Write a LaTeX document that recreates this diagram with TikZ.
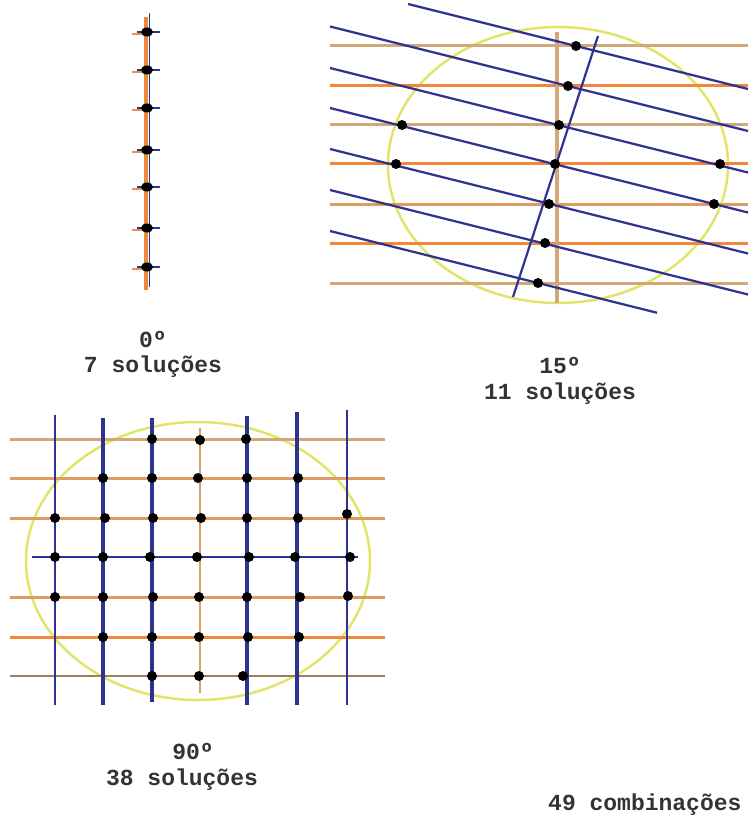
\documentclass[tikz,border=0pt]{standalone}
\usepackage{fontspec}
\setmonofont{Liberation Mono}
\definecolor{tanc}{HTML}{D2A878}
\definecolor{orc}{HTML}{F0873A}
\definecolor{bluec}{HTML}{2E3290}
\definecolor{yelc}{HTML}{E2E46A}
\begin{document}
\begin{tikzpicture}[x=1pt,y=-1pt,
  tanline/.style={draw=tanc,line width=3pt},
  orline/.style={draw=orc,line width=3pt},
  blueline/.style={draw=bluec,line width=2.2pt},
  thickblue/.style={draw=bluec,line width=3.4pt},
  circ/.style={draw=yelc,line width=2.5pt},
  dot/.style={fill=black},
  lbl/.style={font=\fontsize{23}{26}\selectfont\ttfamily\bfseries,text=black!80,inner sep=0pt}
]
\useasboundingbox (0,0) rectangle (748,821);

% ---------- 0 degrees ----------
\draw[orline,line width=3.5pt] (146,17) -- (146,290);
\draw[bluec,line width=1.8pt] (149.5,13) -- (149.5,287);
\foreach \yy in {32,70,108,150,187,228,267}{
  \draw[orc!70!tanc,line width=1.8pt] (132,\yy+2) -- (142,\yy+2);
  \draw[bluec,line width=2pt] (137,\yy) -- (160,\yy);
  \fill[dot] (147,\yy) ellipse [x radius=6pt, y radius=4.5pt];
}

% ---------- 15 degrees ----------
\draw[circ] (558,165) ellipse [x radius=170pt, y radius=138pt];
\draw[tanline] (330,46) -- (748,46);
\draw[orline] (330,86) -- (748,86);
\draw[tanline] (330,125) -- (748,125);
\draw[orline] (330,164) -- (748,164);
\draw[tanline,draw=tanc!60!orc] (330,204) -- (748,204);
\draw[orline] (330,243) -- (748,243);
\draw[tanline] (330,283) -- (748,283);
\draw[tanline,line width=3.5pt] (557,32) -- (557,303);
\draw[blueline] (408,4) -- (748,89);
\foreach \o in {26.5,68,108,149,190}{
  \draw[blueline] (330,\o) -- (748,\o+104.5);
}
\draw[blueline] (330,231) -- (657,312.75);
\draw[blueline] (598,36) -- (513,297);
\foreach \p in {(576,46),(568,86),(559,125),(555,164),(549,204),(545,243),(538,283),
                (402,125),(396,164),(720,164),(714,204)}{
  \fill[dot] \p circle[radius=5pt];
}

% ---------- 90 degrees ----------
\draw[circ] (198,561) ellipse [x radius=172pt, y radius=139pt];
\draw[tanline] (10,439) -- (385,439);
\draw[tanline,draw=tanc!70!orc] (10,478) -- (385,478);
\draw[tanline,draw=tanc!60!orc] (10,518) -- (385,518);
\draw[tanline,draw=tanc!60!orc] (10,597) -- (385,597);
\draw[orline] (10,637) -- (385,637);
\draw[tanc!75!black,line width=2pt] (10,676) -- (385,676);
\draw[bluec,line width=1.8pt] (32,557) -- (358,557);
\draw[tanc!80!orc,line width=2pt] (200,428) -- (200,693);
\draw[blueline] (55,415) -- (55,705);
\draw[thickblue] (103,418) -- (103,705);
\draw[thickblue] (152,418) -- (152,702);
\draw[thickblue] (247,416) -- (247,705);
\draw[thickblue] (297,412) -- (297,705);
\draw[blueline] (347,410) -- (347,705);
\foreach \p in {(152,439),(200,440),(246,439),
                (103,478),(152,478),(198,478),(247,478),(298,478),
                (55,518),(105,518),(153,518),(201,518),(247,518),(298,518),(347,514),
                (55,557),(103,557),(150,557),(197,557),(249,557),(295,557),(350,557),
                (55,597),(103,597),(153,597),(199,597),(247,597),(300,597),(348,596),
                (103,637),(152,637),(199,637),(248,637),(299,637),
                (152,676),(199,676),(243,676)}{
  \fill[dot] \p circle[radius=5pt];
}

% ---------- labels ----------
\node[lbl] (a0) at (153,340) {0º};
\node[lbl] (a1) at (153,367) {7 soluções};
\node[lbl] (b0) at (560,366) {15º};
\node[lbl] (b1) at (560,394) {11 soluções};
\node[lbl] (c0) at (193,752) {90º};
\node[lbl] (c1) at (182,780) {38 soluções};
\node[lbl,anchor=west] (d1) at (548,805) {49 combinações};
\end{tikzpicture}
\end{document}
